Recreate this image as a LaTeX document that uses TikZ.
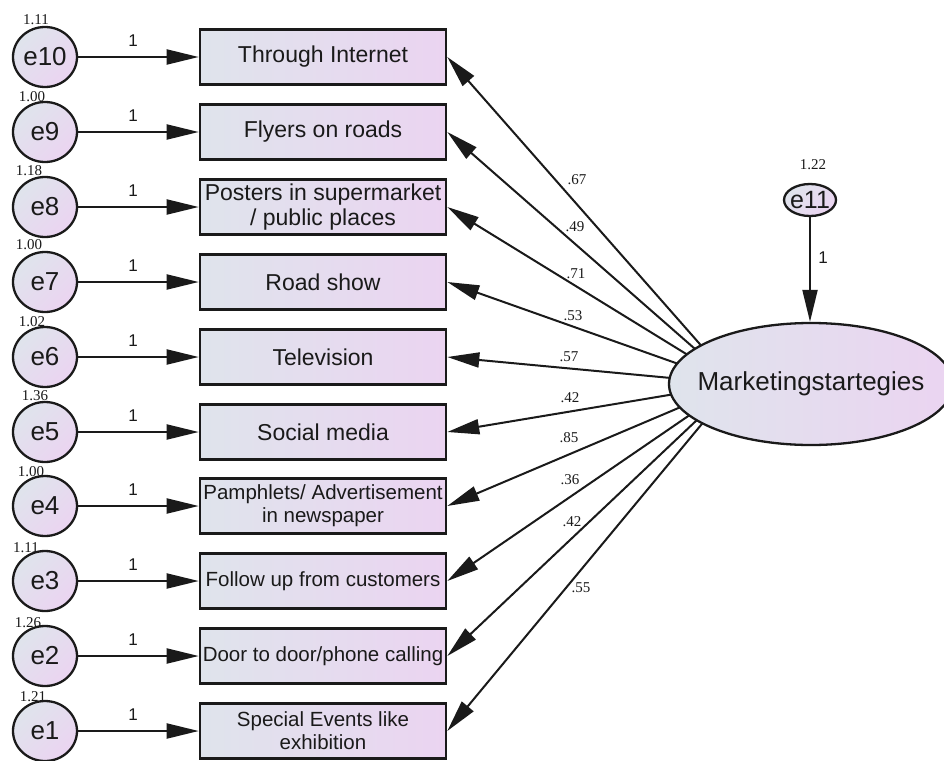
\documentclass[tikz,border=0pt]{standalone}
\usepackage{fontspec}
\setmainfont{Liberation Sans}
\newfontfamily\lserif{Liberation Serif}
\usetikzlibrary{arrows.meta,shapes.geometric,intersections}
\definecolor{fillL}{HTML}{DFE4EC}
\definecolor{fillR}{HTML}{EBD4F1}
\definecolor{ink}{HTML}{1A1A1A}
\tikzset{
  obsbox/.style={draw=ink, line width=2.6pt, left color=fillL, right color=fillR,
    minimum width=246pt, minimum height=55pt, inner sep=0pt, align=center, text=ink,
    font=\fontsize{23}{25}\selectfont},
  obssmall/.style={obsbox, font=\fontsize{20.5}{23}\selectfont},
  errc/.style={ellipse, draw=ink, line width=2.3pt, top color=fillL, bottom color=fillR,
    shading angle=45, minimum width=64pt, minimum height=60pt, inner sep=0pt,
    font=\fontsize{26}{26}\selectfont, text=ink},
  latent/.style={ellipse, draw=ink, line width=2.3pt, left color=fillL, right color=fillR,
    minimum width=284pt, minimum height=122pt, inner sep=0pt},
  lattext/.style={font=\fontsize{26}{26}\selectfont, text=ink, inner sep=0pt},
  patharrow/.style={-{Triangle[length=32pt,width=15pt]}, line width=2pt, draw=ink},
  coef/.style={font=\lserif\fontsize{15}{15}\selectfont, text=ink, inner sep=0pt},
  one/.style={font=\fontsize{17}{17}\selectfont, text=ink, inner sep=0pt}
}
\begin{document}
\begin{tikzpicture}[x=1pt,y=-1pt]
\useasboundingbox (0,0) rectangle (944,760);
\fill[white] (0,0) rectangle (944,760);

% observed boxes
\node[obsbox]   (b10) at (323,57) {Through Internet};
\node[obsbox]   (b9)  at (323,132) {Flyers on roads};
\node[obsbox]   (b8)  at (323,207) {Posters in supermarket\\/ public places};
\node[obsbox]   (b7)  at (323,282) {Road show};
\node[obsbox]   (b6)  at (323,357) {Television};
\node[obsbox]   (b5)  at (323,432) {Social media};
\node[obssmall] (b4)  at (323,506) {Pamphlets/ Advertisement\\in newspaper};
\node[obssmall] (b3)  at (323,581) {Follow up from customers};
\node[obssmall] (b2)  at (323,656) {Door to door/phone calling};
\node[obssmall] (b1)  at (323,731) {Special Events like\\exhibition};

% error circles
\node[errc] (e10) at (45,57) {e10};
\node[errc] (e9)  at (45,132) {e9};
\node[errc] (e8)  at (45,207) {e8};
\node[errc] (e7)  at (45,282) {e7};
\node[errc] (e6)  at (45,357) {e6};
\node[errc] (e5)  at (45,432) {e5};
\node[errc] (e4)  at (45,506) {e4};
\node[errc] (e3)  at (45,581) {e3};
\node[errc] (e2)  at (45,656) {e2};
\node[errc] (e1)  at (45,731) {e1};

% variances
\node[coef] (v10) at (36,20) {1.11};
\node[coef] (v9)  at (32,97) {1.00};
\node[coef] (v8)  at (29,171) {1.18};
\node[coef] (v7)  at (29,245) {1.00};
\node[coef] (v6)  at (32,322) {1.02};
\node[coef] (v5)  at (35,396) {1.36};
\node[coef] (v4)  at (31,472) {1.00};
\node[coef] (v3)  at (26,548) {1.11};
\node[coef] (v2)  at (28,623) {1.26};
\node[coef] (v1)  at (33,697) {1.21};

% error paths
\foreach \i/\yy in {10/57,9/132,8/207,7/282,6/357,5/432,4/506,3/581,2/656,1/731}{
  \draw[patharrow] (e\i) -- (b\i);
  \node[one] (w\i) at (133,\yy-16) {1};
}

% latent variable
\node[latent] (M) at (811,384) {};
\node[lattext] (Mt) at (M.center) {Marketingstartegies};
\node[ellipse, draw=ink, line width=2.3pt, top color=fillL, bottom color=fillR, shading angle=45,
  minimum width=52pt, minimum height=32pt, inner xsep=-3pt, inner ysep=0pt,
  font=\fontsize{25}{25}\selectfont, text=ink]
  (e11) at (810,200) {e11};
\node[coef] (v11) at (813,165) {1.22};
\draw[patharrow] (e11) -- (e11 |- M.north);
\node[one] (w11) at (823,258) {1};

% loadings
\coordinate (F) at (735,384);
\path[name path=mell] (811,384) ellipse [x radius=142, y radius=61];
\foreach \i in {1,...,10}{
  \path[name path=ray\i] (F) -- (b\i.east);
  \draw[patharrow, name intersections={of=mell and ray\i, by=s\i}] (s\i) -- (b\i.east);
}

\node[coef] (c10) at (577,180) {.67};
\node[coef] (c9)  at (575,227) {.49};
\node[coef] (c8)  at (576,274) {.71};
\node[coef] (c7)  at (573,316) {.53};
\node[coef] (c6)  at (569,357) {.57};
\node[coef] (c5)  at (570,398) {.42};
\node[coef] (c4)  at (569,438) {.85};
\node[coef] (c3)  at (570,480) {.36};
\node[coef] (c2)  at (572,522) {.42};
\node[coef] (c1)  at (581,588) {.55};
\end{tikzpicture}
\end{document}
